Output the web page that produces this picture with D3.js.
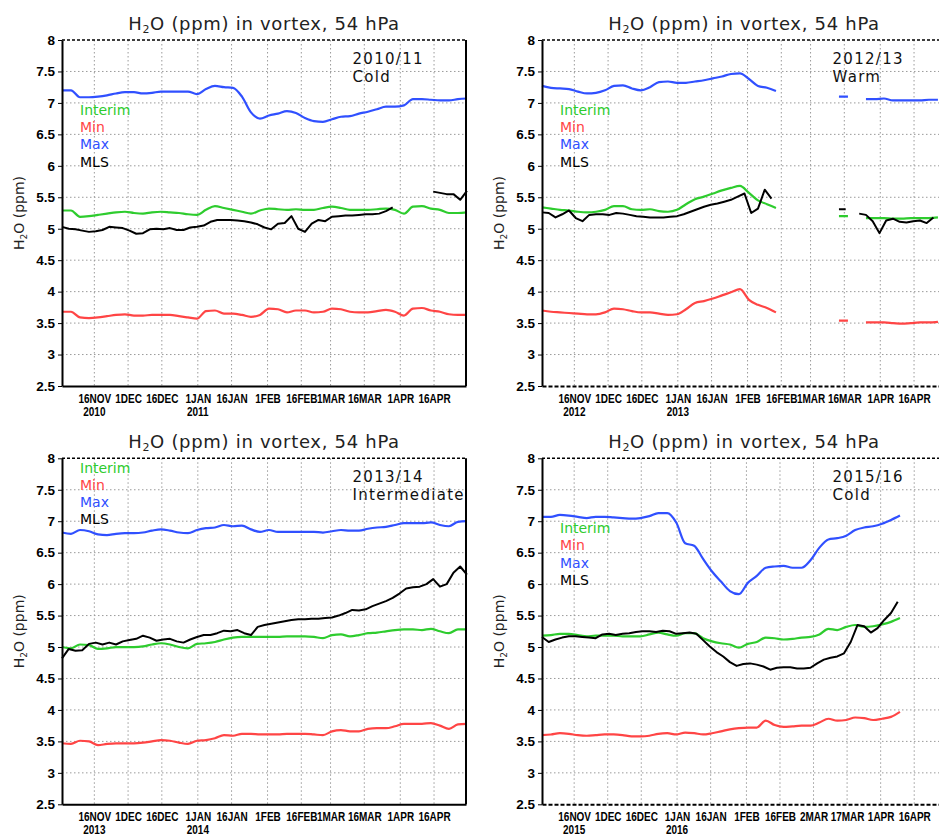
<!DOCTYPE html>
<html>
<head>
<meta charset="utf-8">
<script src="https://cdn.jsdelivr.net/npm/d3@7"></script>
<style>
  body { margin: 0; background: #fff; }
  svg { display: block; font-family: "DejaVu Sans", sans-serif; }
</style>
</head>
<body>
<svg id="chart" width="939" height="835"></svg>
<script>
// ---- Data ----
const startYears = [2010, 2012, 2013, 2015];
const seasonLabels = ["2010/11", "2012/13", "2013/14", "2015/16"];
const seasonTypes = ["Cold", "Warm", "Intermediate", "Cold"];
const seriesNames = ["Interim", "Min", "Max", "MLS"];
const seriesColors = ["#2ecc2e", "#ff4545", "#3050ff", "#000000"];

const modelStep = 4;   // days between model values
const mlsStep = 3;     // days between MLS values

const ticksNormal = ["16NOV", "1DEC", "16DEC", "1JAN", "16JAN", "1FEB", "16FEB", "1MAR", "16MAR", "1APR", "16APR"];
const ticksLeap = ["16NOV", "1DEC", "16DEC", "1JAN", "16JAN", "1FEB", "16FEB", "2MAR", "17MAR", "1APR", "16APR"];
const yTicks = [2.5, 3, 3.5, 4, 4.5, 5, 5.5, 6, 6.5, 7, 7.5, 8];

// 2010/11
const interim1011 = [5.29,5.29,5.19,5.20,5.22,5.24,5.26,5.27,5.25,5.24,5.26,5.27,5.26,5.25,5.23,5.22,5.30,5.36,5.33,5.30,5.27,5.24,5.29,5.32,5.31,5.30,5.31,5.30,5.30,5.33,5.35,5.33,5.30,5.30,5.30,5.31,5.32,5.30,5.24,5.35,5.36,5.32,5.30,5.25,5.25,5.26];
const min1011 = [3.68,3.68,3.59,3.58,3.59,3.61,3.63,3.64,3.62,3.62,3.63,3.63,3.63,3.61,3.59,3.57,3.69,3.70,3.65,3.65,3.63,3.60,3.63,3.73,3.72,3.67,3.70,3.70,3.67,3.68,3.73,3.72,3.68,3.67,3.67,3.69,3.71,3.68,3.62,3.73,3.74,3.70,3.68,3.64,3.63,3.63];
const max1011 = [7.20,7.20,7.09,7.09,7.10,7.12,7.15,7.17,7.17,7.15,7.16,7.18,7.18,7.18,7.18,7.14,7.22,7.27,7.25,7.24,7.10,6.85,6.75,6.80,6.83,6.87,6.84,6.76,6.71,6.70,6.74,6.78,6.79,6.83,6.86,6.90,6.94,6.94,6.96,7.06,7.06,7.05,7.04,7.04,7.06,7.07];
const mls1011 = [5.03,5.00,4.99,4.97,4.95,4.96,4.98,5.03,5.02,5.01,4.97,4.92,4.93,4.99,5.00,4.99,5.01,4.98,4.98,5.02,5.03,5.05,5.11,5.14,5.14,5.14,5.13,5.12,5.10,5.07,5.02,4.99,5.08,5.09,5.20,5.00,4.95,5.08,5.14,5.12,5.19,5.20,5.21,5.21,5.22,5.23,5.23,5.24,5.28,5.34,null,null,null,null,null,5.59,5.57,5.55,5.55,5.46,5.60];

// 2012/13
const interim1213 = [5.34,5.32,5.30,5.29,5.27,5.26,5.27,5.30,5.36,5.36,5.31,5.30,5.31,5.28,5.27,5.30,5.39,5.47,5.51,5.56,5.61,5.65,5.68,5.57,5.45,5.39,5.33,null,null,null,null,null,null,5.20,5.20,null,5.17,5.17,5.17,5.16,5.16,5.17,5.17,5.17,5.18,null];
const min1213 = [3.70,3.68,3.67,3.66,3.65,3.64,3.64,3.67,3.73,3.72,3.69,3.67,3.67,3.65,3.63,3.64,3.72,3.82,3.85,3.89,3.94,3.99,4.04,3.87,3.79,3.74,3.67,null,null,null,null,null,null,3.54,3.54,null,3.51,3.51,3.51,3.50,3.49,3.50,3.51,3.51,3.52,null];
const max1213 = [7.27,7.24,7.23,7.22,7.18,7.15,7.16,7.20,7.27,7.28,7.23,7.20,7.25,7.33,7.34,7.32,7.32,7.34,7.36,7.39,7.42,7.46,7.47,7.38,7.27,7.24,7.19,null,null,null,null,null,null,7.10,7.10,null,7.06,7.06,7.07,7.04,7.04,7.04,7.04,7.05,7.05,null];
const mls1213 = [5.26,5.25,5.18,5.23,5.29,5.17,5.12,5.22,5.23,5.23,5.22,5.25,5.24,5.22,5.20,5.19,5.18,5.18,5.18,5.19,5.20,5.23,5.27,5.31,5.35,5.38,5.40,5.43,5.46,5.51,5.56,5.25,5.32,5.62,5.48,null,null,null,null,null,null,null,null,null,5.31,5.31,null,5.24,5.22,5.12,4.93,5.13,5.16,5.11,5.10,5.12,5.13,5.09,5.18,null,null];

// 2013/14
const interim1314 = [5.00,4.98,5.04,5.03,4.97,4.98,5.00,5.00,5.00,5.01,5.04,5.06,5.04,5.00,4.98,5.05,5.06,5.08,5.12,5.15,5.16,5.16,5.16,5.16,5.16,5.17,5.17,5.17,5.16,5.14,5.19,5.20,5.17,5.19,5.22,5.23,5.25,5.27,5.28,5.28,5.27,5.29,5.25,5.22,5.28,5.28];
const min1314 = [3.47,3.46,3.51,3.50,3.44,3.46,3.47,3.47,3.47,3.48,3.50,3.52,3.51,3.48,3.46,3.51,3.52,3.55,3.60,3.59,3.62,3.62,3.61,3.61,3.61,3.62,3.62,3.62,3.61,3.60,3.66,3.68,3.66,3.66,3.70,3.71,3.71,3.74,3.78,3.78,3.78,3.79,3.75,3.70,3.77,3.78];
const max1314 = [6.82,6.80,6.86,6.84,6.79,6.78,6.80,6.81,6.81,6.82,6.85,6.87,6.85,6.82,6.81,6.86,6.89,6.90,6.94,6.92,6.93,6.87,6.83,6.86,6.83,6.83,6.83,6.83,6.83,6.82,6.84,6.86,6.85,6.85,6.88,6.90,6.91,6.94,6.97,6.97,6.97,6.98,6.94,6.92,6.99,7.00];
const mls1314 = [4.82,4.97,4.94,4.95,5.05,5.07,5.04,5.07,5.04,5.09,5.11,5.13,5.18,5.15,5.10,5.12,5.13,5.09,5.07,5.12,5.16,5.19,5.19,5.22,5.26,5.25,5.27,5.22,5.19,5.32,5.35,5.37,5.39,5.41,5.43,5.44,5.44,5.45,5.45,5.46,5.47,5.50,5.54,5.59,5.58,5.60,5.65,5.69,5.73,5.78,5.85,5.93,5.95,5.96,6.00,6.08,5.96,6.00,6.18,6.28,6.15];

// 2015/16
const interim1516 = [5.18,5.19,5.21,5.21,5.19,5.17,5.18,5.18,5.18,5.17,5.17,5.17,5.20,5.23,5.20,5.18,5.22,5.22,5.14,5.09,5.06,5.04,4.99,5.05,5.08,5.15,5.14,5.12,5.13,5.15,5.16,5.20,5.29,5.27,5.32,5.35,5.32,5.33,5.36,5.40,5.46];
const min1516 = [3.60,3.61,3.63,3.62,3.60,3.59,3.60,3.61,3.61,3.60,3.58,3.58,3.59,3.62,3.63,3.61,3.64,3.63,3.61,3.63,3.66,3.69,3.71,3.72,3.72,3.83,3.76,3.73,3.74,3.75,3.75,3.80,3.86,3.83,3.84,3.88,3.87,3.84,3.86,3.89,3.97];
const max1516 = [7.07,7.07,7.10,7.09,7.07,7.05,7.07,7.07,7.06,7.05,7.04,7.05,7.08,7.13,7.13,6.98,6.65,6.61,6.40,6.20,6.04,5.89,5.84,6.02,6.13,6.26,6.28,6.29,6.26,6.26,6.38,6.58,6.71,6.73,6.77,6.86,6.90,6.92,6.96,7.02,7.09];
const mls1516 = [5.16,5.08,5.12,5.15,5.17,5.17,5.16,5.15,5.14,5.20,5.21,5.19,5.21,5.22,5.24,5.25,5.25,5.24,5.26,5.25,5.21,5.22,5.23,5.21,5.11,5.01,4.92,4.85,4.76,4.70,4.73,4.74,4.72,4.69,4.64,4.67,4.68,4.68,4.66,4.66,4.67,4.74,4.80,4.83,4.85,4.90,5.08,5.35,5.33,5.23,5.30,5.43,5.54,5.72];

const panelSeries = [
  [interim1011, min1011, max1011, mls1011],
  [interim1213, min1213, max1213, mls1213],
  [interim1314, min1314, max1314, mls1314],
  [interim1516, min1516, max1516, mls1516]
];
const panelTicks = [ticksNormal, ticksNormal, ticksNormal, ticksLeap];

// ---- Layout ----
const W = 404, H = 346;
const panelOrigins = [[62, 40], [542, 40], [62, 458.3], [542, 458.3]];
const legendTops = [75, 75, 14.4, 75];
const monthIndex = { NOV: 10, DEC: 11, JAN: 0, FEB: 1, MAR: 2, APR: 3 };
const DAY = 864e5;

const svg = d3.select('#chart');

panelSeries.forEach((series, k) => {
  const [x0, y0] = panelOrigins[k];
  const yr = startYears[k];
  const start = new Date(Date.UTC(yr, 10, 1, 15));
  const end = new Date(Date.UTC(yr + 1, 3, 30, 5));

  const x = d3.scaleUtc().domain([start, end]).range([0, W]);
  const y = d3.scaleLinear().domain([2.5, 8]).range([H, 0]);

  const tickDates = panelTicks[k].map(lab => {
    const m = lab.match(/(\d+)([A-Z]+)/);
    const mi = monthIndex[m[2]];
    return new Date(Date.UTC(mi >= 10 ? yr : yr + 1, mi, +m[1]));
  });

  const g = svg.append('g').attr('transform', `translate(${x0},${y0})`);

  // grid
  g.append('g').selectAll('line')
    .data(tickDates)
    .join('line')
    .attr('x1', d => x(d)).attr('x2', d => x(d))
    .attr('y1', 0).attr('y2', H)
    .attr('stroke', '#9a9a9a').attr('stroke-width', 1)
    .attr('stroke-dasharray', '1.5,2.5');
  g.append('g').selectAll('line')
    .data(yTicks.filter(v => v > 2.5 && v < 8))
    .join('line')
    .attr('x1', 0).attr('x2', W)
    .attr('y1', d => y(d)).attr('y2', d => y(d))
    .attr('stroke', '#9a9a9a').attr('stroke-width', 1)
    .attr('stroke-dasharray', '1.5,2.5');

  // lines
  series.forEach((vals, s) => {
    const step = s === 3 ? mlsStep : modelStep;
    const pts = vals.map((v, i) => ({ t: new Date(start.getTime() + i * step * DAY), v }));
    const line = d3.line()
      .defined(d => d.v != null)
      .x(d => x(d.t))
      .y(d => y(d.v))
      .curve(s === 3 ? d3.curveLinear : d3.curveMonotoneX);
    g.append('path')
      .datum(pts)
      .attr('d', line)
      .attr('fill', 'none')
      .attr('stroke', seriesColors[s])
      .attr('stroke-width', s === 3 ? 2 : 2.2)
      .attr('stroke-linejoin', 'round');
  });

  // frame: top dashed, right solid
  g.append('line')
    .attr('x1', 0).attr('x2', W).attr('y1', 0).attr('y2', 0)
    .attr('stroke', '#000').attr('stroke-width', 1.5)
    .attr('stroke-dasharray', '3,2');
  g.append('line')
    .attr('x1', W).attr('x2', W).attr('y1', 0).attr('y2', H)
    .attr('stroke', '#000').attr('stroke-width', 2);

  // y axis
  const yAxis = g.append('g')
    .call(d3.axisLeft(y).tickValues(yTicks).tickSize(4).tickSizeOuter(0).tickPadding(3)
      .tickFormat(d => d % 1 === 0 ? String(d) : d.toFixed(1)));
  yAxis.select('.domain').attr('stroke-width', 2);
  yAxis.selectAll('text')
    .attr('font-family', '"Liberation Sans", Arial, sans-serif')
    .attr('font-weight', 'bold')
    .attr('font-size', 13.5)
    .attr('fill', '#000');

  // x axis
  const xAxis = g.append('g')
    .attr('transform', `translate(0,${H})`)
    .call(d3.axisBottom(x).tickValues(tickDates).tickSize(0).tickSizeOuter(0)
      .tickFormat((d, i) => panelTicks[k][i]));
  xAxis.select('.domain')
    .attr('stroke-width', 2)
    .attr('stroke-dasharray', k % 2 === 1 ? '4,2' : null);
  xAxis.selectAll('text')
    .attr('y', 17).attr('dy', null)
    .attr('transform', 'scale(0.8,1)')
    .attr('font-family', '"Liberation Sans", Arial, sans-serif')
    .attr('font-weight', 'bold')
    .attr('font-size', 12.5)
    .attr('fill', '#000');

  // year labels under first tick and 1 JAN
  [[0, yr], [3, yr + 1]].forEach(([ti, label]) => {
    g.append('text')
      .attr('transform', `translate(${x(tickDates[ti])},${H + 29.5}) scale(0.8,1)`)
      .attr('text-anchor', 'middle')
      .attr('font-family', '"Liberation Sans", Arial, sans-serif')
      .attr('font-weight', 'bold')
      .attr('font-size', 12.5)
      .text(label);
  });

  // title
  const title = g.append('text')
    .attr('x', W / 2).attr('y', -10)
    .attr('text-anchor', 'middle')
    .attr('font-size', 18)
    .attr('letter-spacing', 0.7)
    .attr('fill', '#222');
  title.append('tspan').text('H');
  title.append('tspan').attr('font-size', 11).attr('dy', 3).text('2');
  title.append('tspan').attr('dy', -3).text('O (ppm) in vortex, 54 hPa');

  // y label
  const ylab = g.append('text')
    .attr('transform', `translate(-38,${H / 2}) rotate(-90)`)
    .attr('text-anchor', 'middle')
    .attr('font-size', 14)
    .attr('fill', '#222');
  ylab.append('tspan').text('H');
  ylab.append('tspan').attr('font-size', 9).attr('dy', 3).text('2');
  ylab.append('tspan').attr('dy', -3).text('O  (ppm)');

  // legend
  seriesNames.forEach((name, s) => {
    g.append('text')
      .attr('x', 18).attr('y', legendTops[k] + s * 17.2)
      .attr('font-size', 14)
      .attr('fill', seriesColors[s])
      .text(name);
  });

  // season annotation
  [seasonLabels[k], seasonTypes[k]].forEach((txt, j) => {
    g.append('text')
      .attr('x', 290.5).attr('y', 23.5 + j * 18)
      .attr('font-size', 15)
      .attr('letter-spacing', 1.3)
      .attr('fill', '#111')
      .text(txt);
  });
});
</script>
</body>
</html>
